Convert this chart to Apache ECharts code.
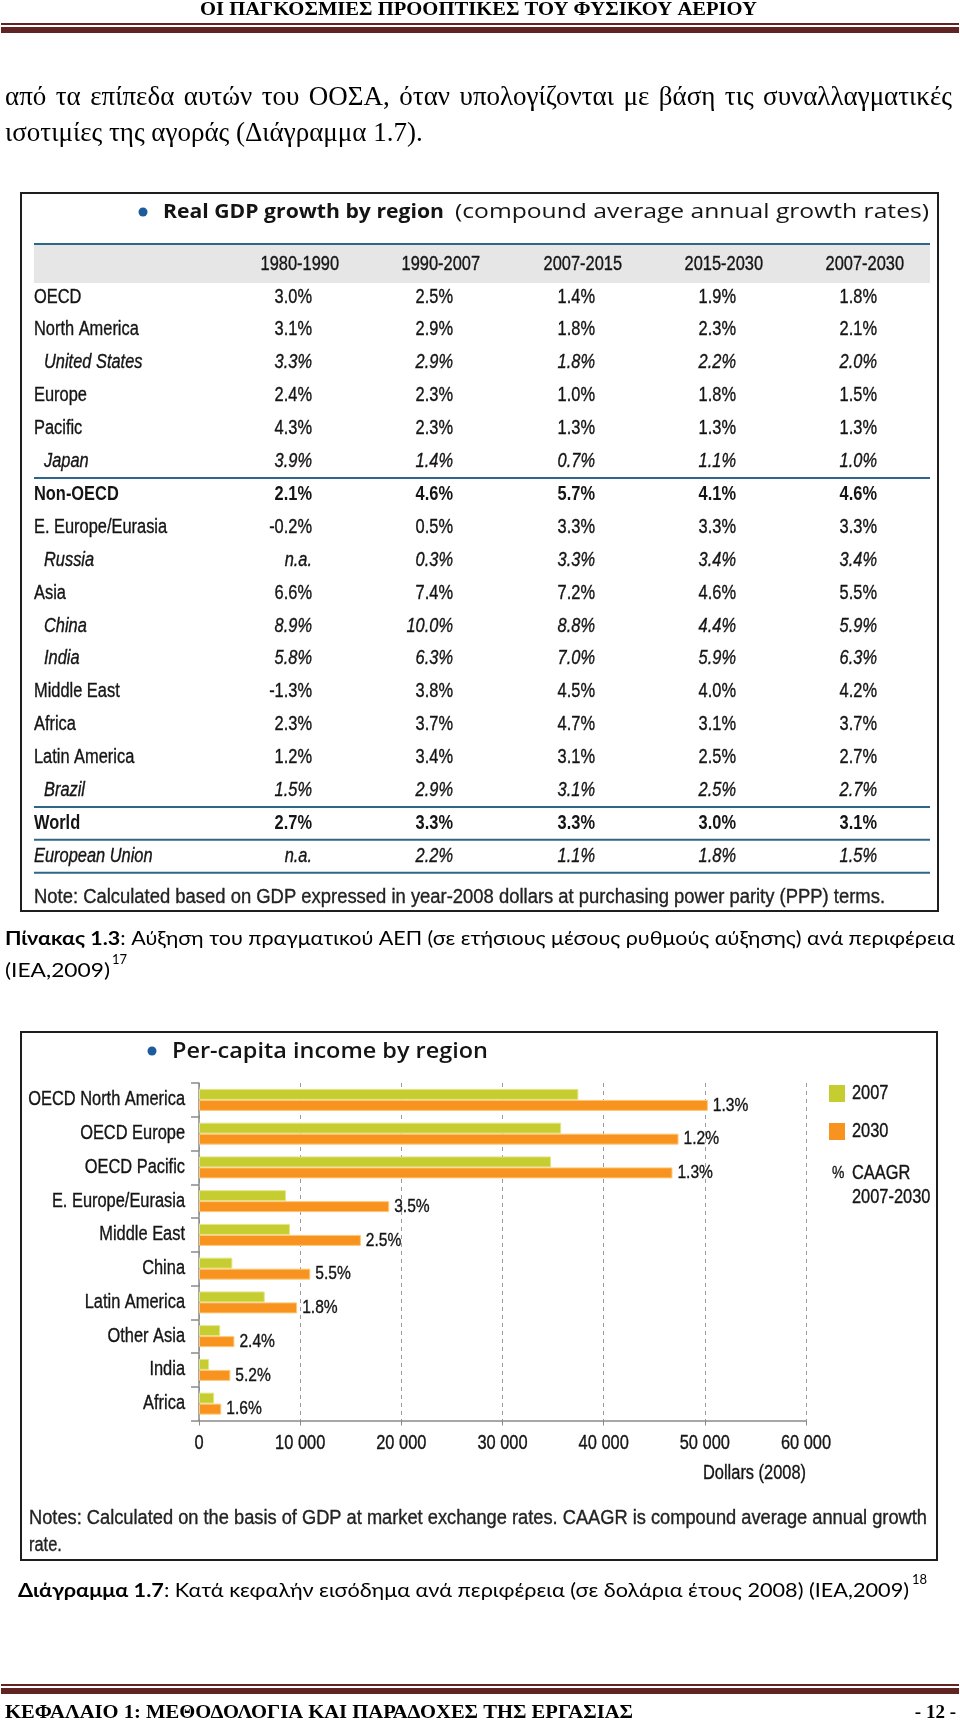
<!DOCTYPE html>
<html><head><meta charset="utf-8">
<script src="https://cdn.jsdelivr.net/npm/echarts@6.0.0/dist/echarts.min.js"></script>
<style>html,body{margin:0;padding:0;background:#fff}#c{width:960px;height:1724px}</style>
</head><body><div id="c"></div>
<script>
// ---------------- DATA ----------------
const tableColumns = ['1980-1990', '1990-2007', '2007-2015', '2015-2030', '2007-2030'];
const tableRegions = ['OECD', 'North America', 'United States', 'Europe', 'Pacific', 'Japan',
  'Non-OECD', 'E. Europe/Eurasia', 'Russia', 'Asia', 'China', 'India', 'Middle East', 'Africa',
  'Latin America', 'Brazil', 'World', 'European Union'];
const growth1980_1990 = [3.0, 3.1, 3.3, 2.4, 4.3, 3.9, 2.1, -0.2, null, 6.6, 8.9, 5.8, -1.3, 2.3, 1.2, 1.5, 2.7, null];
const growth1990_2007 = [2.5, 2.9, 2.9, 2.3, 2.3, 1.4, 4.6, 0.5, 0.3, 7.4, 10.0, 6.3, 3.8, 3.7, 3.4, 2.9, 3.3, 2.2];
const growth2007_2015 = [1.4, 1.8, 1.8, 1.0, 1.3, 0.7, 5.7, 3.3, 3.3, 7.2, 8.8, 7.0, 4.5, 4.7, 3.1, 3.1, 3.3, 1.1];
const growth2015_2030 = [1.9, 2.3, 2.2, 1.8, 1.3, 1.1, 4.1, 3.3, 3.4, 4.6, 4.4, 5.9, 4.0, 3.1, 2.5, 2.5, 3.0, 1.8];
const growth2007_2030 = [1.8, 2.1, 2.0, 1.5, 1.3, 1.0, 4.6, 3.3, 3.4, 5.5, 5.9, 6.3, 4.2, 3.7, 2.7, 2.7, 3.1, 1.5];
const subRegions = ['United States', 'Japan', 'Russia', 'China', 'India', 'Brazil'];
const aggregateRegions = ['Non-OECD', 'World'];

const incomeRegions = ['OECD North America', 'OECD Europe', 'OECD Pacific', 'E. Europe/Eurasia',
  'Middle East', 'China', 'Latin America', 'Other Asia', 'India', 'Africa'];
const income2007 = [37500, 35800, 34800, 8600, 9000, 3300, 6500, 2100, 1000, 1500];
const income2030 = [50300, 47400, 46800, 18800, 16000, 11000, 9700, 3500, 3100, 2200];
const caagr2007_2030 = [1.3, 1.2, 1.3, 3.5, 2.5, 5.5, 1.8, 2.4, 5.2, 1.6];
const incomeSeriesNames = ['2007', '2030'];
const incomeAxisMax = 60000;
const incomeAxisStep = 10000;

// ---------------- HELPERS ----------------
const SERIF = "'Liberation Serif', 'Times New Roman', serif";
const SANS = "'Liberation Sans', Arial, sans-serif";
const OPEN = "'Open Sans', 'Noto Sans', sans-serif";
const CAL = "Lato, 'Open Sans', sans-serif";
const COND = 0.82; // narrow look from a regular sans
const ctx = document.createElement('canvas').getContext('2d');
function measure(text, size, family, weight, fstyle) {
  ctx.font = (fstyle || 'normal') + ' ' + (weight || 'normal') + ' ' + size + 'px ' + family;
  return ctx.measureText(text).width;
}
function T(text, x, y, o) {
  o = o || {};
  const narrow = !o.family;
  const size = o.size || 16, family = o.family || SANS, weight = o.weight || 'normal', fs = o.fontStyle || 'normal';
  const fill = o.color || '#141414';
  let sx = narrow ? COND : 1;
  if (o.fit) sx = o.fit / measure(text, size, family, weight, fs);
  const st = { text: text, fontSize: size, fontFamily: family, fontWeight: weight, fontStyle: fs,
    fill: fill, align: o.align || 'left', verticalAlign: 'middle' };
  if (o.heavy) { st.stroke = fill; st.lineWidth = o.heavy; }
  return { type: 'text', x: x, y: y, scaleX: sx, z: 20, silent: true, style: st };
}
function R(x, y, w, h, fill) { return { type: 'rect', z: 5, silent: true, shape: { x: x, y: y, width: w, height: h }, style: { fill: fill } }; }
function box(x, y, w, h) { return { type: 'rect', z: 6, silent: true, shape: { x: x, y: y, width: w, height: h }, style: { fill: 'none', stroke: '#1e1e1e', lineWidth: 2 } }; }
function justified(words, x0, x1, y, size, family) {
  const widths = words.map(w => measure(w, size, family));
  const total = widths.reduce((a, b) => a + b, 0);
  const gap = (x1 - x0 - total) / (words.length - 1);
  const out = []; let x = x0;
  words.forEach((w, i) => { out.push(T(w, x, y, { size: size, family: family, color: '#000' })); x += widths[i] + gap; });
  return out;
}
function richCaption(boldPart, rest, x, y, size, family, fitW) {
  const w = measure(boldPart, size, family, 'bold') + measure(rest, size, family);
  return { type: 'text', x: x, y: y, scaleX: fitW / w, z: 20, silent: true,
    style: { text: '{b|' + boldPart + '}' + rest, fontSize: size, fontFamily: family, fill: '#000',
      verticalAlign: 'middle', rich: { b: { fontWeight: 'bold', fontSize: size, fontFamily: family, fill: '#000' } } } };
}

// ---------------- PAGE GRAPHICS ----------------
const G = [];
const DARKRED = '#622423';
const HV = 0.35; // slight stroke to mimic the heavier condensed face
G.push(T('ΟΙ ΠΑΓΚΟΣΜΙΕΣ ΠΡΟΟΠΤΙΚΕΣ ΤΟΥ ΦΥΣΙΚΟΥ ΑΕΡΙΟΥ', 200, 10, { size: 19, family: SERIF, weight: 'bold', fit: 557, color: '#000' }));
G.push(R(1, 23, 958, 2, DARKRED), R(1, 27, 958, 6, DARKRED));
G.push(...justified('από τα επίπεδα αυτών του ΟΟΣΑ, όταν υπολογίζονται με βάση τις συναλλαγματικές'.split(' '), 5, 952, 98, 27, SERIF));
G.push(T('ισοτιμίες της αγοράς (Διάγραμμα 1.7).', 5, 134, { size: 27, family: SERIF, color: '#000' }));

// table
G.push(box(21, 193, 917, 718));
G.push({ type: 'circle', z: 20, silent: true, shape: { cx: 143, cy: 212, r: 4.5 }, style: { fill: '#1d5c9b' } });
G.push(T('Real GDP growth by region', 163, 212, { size: 20, family: OPEN, weight: 'bold', fit: 281 }));
G.push(T('(compound average annual growth rates)', 455, 212, { size: 20, family: OPEN, fit: 474 }));
const TEAL = '#2c6789';
G.push(R(34, 245, 896, 38, '#e6e6e6'));
G.push(R(34, 243, 896, 2, TEAL));
const colRight = [312, 453, 595, 736, 877];
tableColumns.forEach((c, j) => G.push(T(c, colRight[j] + 27, 264, { size: 20, align: 'right', heavy: HV })));
const cols = [growth1980_1990, growth1990_2007, growth2007_2015, growth2015_2030, growth2007_2030];
const rowY = i => 297 + i * 32.9;
tableRegions.forEach((name, i) => {
  const sub = subRegions.includes(name);
  const ital = sub || name === 'European Union';
  const bold = aggregateRegions.includes(name);
  const fs = ital ? 'italic' : 'normal', fw = bold ? 'bold' : 'normal';
  const hv = bold ? 0 : HV;
  G.push(T(name, sub ? 44 : 34, rowY(i), { size: 20, fontStyle: fs, weight: fw, heavy: hv }));
  cols.forEach((arr, j) => {
    const v = arr[i];
    G.push(T(v === null ? 'n.a.' : v.toFixed(1) + '%', colRight[j], rowY(i), { size: 20, align: 'right', fontStyle: fs, weight: fw, heavy: hv }));
  });
});
[5.5, 15.5, 16.5, 17.5].forEach(k => G.push(R(34, rowY(k) - 1, 896, 2, TEAL)));
G.push(T('Note: Calculated based on GDP expressed in year-2008 dollars at purchasing power parity (PPP) terms.', 34, 897, { size: 20, family: SANS, fit: 851, color: '#222', heavy: HV }));

// caption 1
G.push(richCaption('Πίνακας 1.3', ': Αύξηση του πραγματικού ΑΕΠ (σε ετήσιους μέσους ρυθμούς αύξησης) ανά περιφέρεια', 5, 939, 19, CAL, 950));
G.push(T('(IEA,2009)', 5, 971, { size: 19, family: CAL, fit: 105, color: '#000' }));
G.push(T('17', 112, 960, { size: 13, family: CAL, color: '#000' }));

// chart box, title, extra texts
G.push(box(21, 1032, 916, 528));
G.push({ type: 'circle', z: 20, silent: true, shape: { cx: 152, cy: 1051, r: 4.5 }, style: { fill: '#1d5c9b' } });
G.push(T('Per-capita income by region', 172, 1052, { size: 21, family: OPEN, weight: '600', fit: 316 }));
G.push(T('%', 832, 1173, { size: 17, heavy: HV }));
G.push(T('CAAGR', 852, 1173, { size: 20, heavy: HV }));
G.push(T('2007-2030', 852, 1197, { size: 20, heavy: HV }));
G.push(T('Dollars (2008)', 806, 1473, { size: 20, align: 'right', heavy: HV }));
G.push(T('Notes: Calculated on the basis of GDP at market exchange rates. CAAGR is compound average annual growth', 29, 1518, { size: 20, family: SANS, fit: 898, color: '#222', heavy: HV }));
G.push(T('rate.', 29, 1545, { size: 20, color: '#222', heavy: HV }));

// caption 2
G.push(richCaption('Διάγραμμα 1.7', ': Κατά κεφαλήν εισόδημα ανά περιφέρεια (σε δολάρια έτους 2008) (IEA,2009)', 18, 1591, 19, CAL, 891));
G.push(T('18', 912, 1580, { size: 13, family: CAL, color: '#000' }));

// footer
G.push(R(1, 1684, 958, 2, DARKRED), R(1, 1688, 958, 6, DARKRED));
G.push(T('ΚΕΦΑΛΑΙΟ 1: ΜΕΘΟΔΟΛΟΓΙΑ ΚΑΙ ΠΑΡΑΔΟΧΕΣ ΤΗΣ ΕΡΓΑΣΙΑΣ', 5, 1713, { size: 19, family: SERIF, weight: 'bold', fit: 628, color: '#000' }));
G.push(T('- 12 -', 956, 1713, { size: 19, family: SERIF, weight: 'bold', align: 'right', color: '#000' }));

// ---------------- CHART ----------------
const GREEN = '#c5cd30', ORANGE = '#f7931e';
const fmtDollars = v => v >= 1000 ? Math.floor(v / 1000) + ' ' + String(v % 1000).padStart(3, '0') : String(v);
const chart = echarts.init(document.getElementById('c'), null, { renderer: 'canvas' });
chart.setOption({
  animation: false,
  backgroundColor: '#fff',
  graphic: { elements: G },
  grid: { left: 199, top: 1083, width: 607, height: 337.5, containLabel: false },
  legend: {
    data: incomeSeriesNames, orient: 'vertical', left: 829, top: 1085, padding: 0, itemWidth: 16, itemHeight: 17, itemGap: 21,
    icon: 'rect', itemStyle: { borderWidth: 0 }, formatter: () => '',
    textStyle: { fontSize: 19 }
  },
  xAxis: {
    type: 'value', min: 0, max: incomeAxisMax, interval: incomeAxisStep,
    axisLine: { show: true, lineStyle: { color: '#8a8a8a', width: 1.5 } },
    axisTick: { show: true, length: 5, lineStyle: { color: '#8a8a8a' } },
    splitLine: { show: true, lineStyle: { color: '#9a9a9a', type: [4, 4], width: 1 } },
    axisLabel: { show: false }
  },
  yAxis: {
    type: 'category', data: incomeRegions, inverse: true,
    axisLine: { show: true, lineStyle: { color: '#8a8a8a', width: 1.5 } },
    axisTick: { show: true, length: 8, lineStyle: { color: '#8a8a8a', width: 1.5 } },
    axisLabel: { show: false },
    splitLine: { show: false }
  },
  series: [
    { name: incomeSeriesNames[0], type: 'bar', data: income2007, barWidth: 11, barGap: '0%',
      itemStyle: { color: GREEN, borderColor: '#e2e68a', borderWidth: 1 } },
    { name: incomeSeriesNames[1], type: 'bar', data: income2030, barWidth: 11,
      itemStyle: { color: ORANGE, borderColor: '#fcc979', borderWidth: 1 } }
  ]
});

// condensed axis / value / legend labels, positioned through the chart's own scales and layouts
const OV = [];
const gridRect = chart.getModel().getComponent('grid').coordinateSystem.getRect();
incomeRegions.forEach(r => {
  const y = chart.convertToPixel({ yAxisIndex: 0 }, r);
  OV.push(T(r, gridRect.x - 14, y, { size: 20, align: 'right', heavy: HV }));
});
for (let v = 0; v <= incomeAxisMax; v += incomeAxisStep) {
  const x = chart.convertToPixel({ xAxisIndex: 0 }, v);
  OV.push(T(fmtDollars(v), x, gridRect.y + gridRect.height + 23, { size: 20, align: 'center', heavy: HV }));
}
const d30 = chart.getModel().getSeriesByIndex(1).getData();
caagr2007_2030.forEach((c, i) => {
  const L = d30.getItemLayout(i);
  OV.push(T(c.toFixed(1) + '%', L.x + L.width + 5, L.y + L.height / 2, { size: 19, heavy: HV }));
});
incomeSeriesNames.forEach((n, i) => OV.push(T(n, 852, 1085 + 8.5 + i * 38, { size: 20, heavy: HV })));
chart.setOption({ graphic: { elements: G.concat(OV) } });
</script></body></html>
